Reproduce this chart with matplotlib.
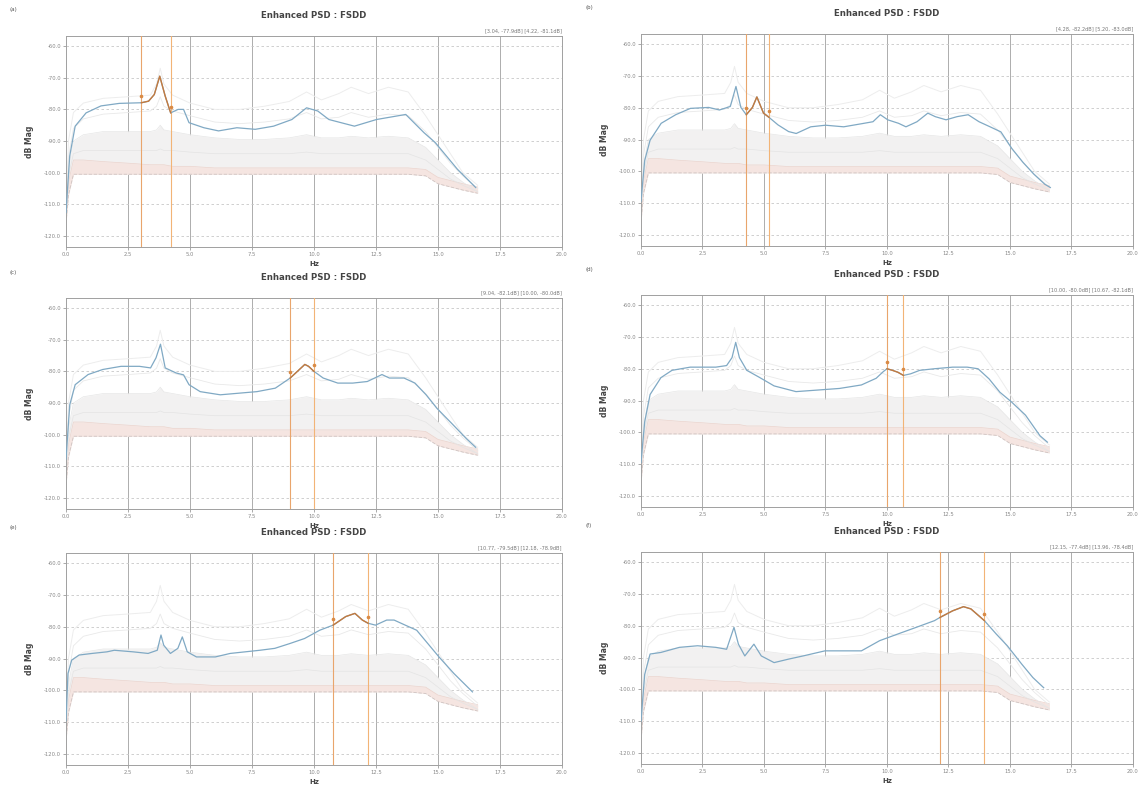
import numpy as np
import matplotlib.pyplot as plt

# background spectra (lower singular values), same in every panel
bg_freq = [0.0, 0.1, 0.3, 0.7, 1.5, 2.5, 3.4, 3.65, 3.8, 3.95, 4.3, 5.0, 6.0, 7.0,
           8.0, 9.0, 9.7, 10.3, 11.0, 11.5, 12.2, 13.0, 13.8, 14.5, 15.0, 15.5, 16.0, 16.6]
sv_a = [-112, -90, -81, -78, -76.5, -76, -75.5, -72, -67, -72, -75.5, -78, -80, -80,
        -79, -77.5, -74.5, -77, -75, -73, -75, -73, -74.5, -82, -88, -94, -100, -104]
sv_b = [-112, -95, -86, -83, -81.5, -81, -80.5, -79, -76, -79, -80.5, -82, -84, -84.5,
        -84, -83, -81, -83, -82.5, -81, -82.5, -81.5, -82, -87, -92, -97, -101, -105]
sv_c = [-113, -98, -90, -88, -87, -87, -87, -86.5, -85, -86.5, -87, -88, -89, -89.5,
        -89.5, -89, -88, -89, -89, -88.5, -89, -88.5, -89, -92, -96, -100, -103, -106]
sv_d = [-113, -101, -94, -93, -93, -93, -93, -93, -92.5, -93, -93, -93.5, -94, -94,
        -94, -94, -93.5, -94, -94, -94, -94, -94, -94, -96, -99, -102, -104, -106]
floor_hi = [-113, -103, -96, -96, -96.5, -97, -97.5, -97.5, -97.5, -97.5, -98, -98, -98.5, -98.5,
            -98.5, -98.5, -98.5, -98.5, -98.5, -98.5, -98.5, -98.5, -98.5, -99, -101.5, -102.5, -103.5, -104.5]
floor_lo = [-116, -107, -100.5, -100.5, -100.5, -100.5, -100.5, -100.5, -100.5, -100.5, -100.5, -100.5, -100.5, -100.5,
            -100.5, -100.5, -100.5, -100.5, -100.5, -100.5, -100.5, -100.5, -100.5, -101, -103.5, -104.5, -105.5, -106.5]

# first singular value for each panel
a_freq = [0.0, 0.15, 0.37, 0.81, 1.41, 2.15, 3.04, 3.33, 3.56, 3.78, 4.0, 4.22, 4.52, 4.74, 4.96,
          5.56, 6.15, 6.89, 7.63, 8.37, 9.11, 9.7, 10.15, 10.6, 11.63, 12.52, 13.7, 14.44, 14.89, 15.78, 16.52]
a_db = [-112.6, -94.7, -85.3, -81.1, -78.9, -78.1, -77.9, -77.4, -75.3, -69.5, -75.8, -81.1, -80.0, -80.0, -84.2,
        -85.8, -86.8, -85.8, -86.3, -85.3, -83.2, -79.5, -80.5, -83.2, -85.3, -83.2, -81.6, -87.4, -90.5, -98.9, -104.7]

b_freq = [0.0, 0.15, 0.37, 0.82, 1.41, 2.01, 2.75, 3.19, 3.63, 3.86, 4.06, 4.28, 4.53, 4.71, 4.98, 5.2, 5.57,
          6.0, 6.31, 6.9, 7.5, 8.24, 8.99, 9.43, 9.73, 10.03, 10.47, 10.77, 11.22, 11.66, 11.96, 12.4,
          12.85, 13.3, 13.74, 14.19, 14.63, 15.08, 15.53, 15.97, 16.42, 16.64]
b_db = [-109.4, -96.6, -90.2, -84.9, -82.2, -80.2, -79.9, -80.7, -79.6, -73.3, -79.9, -82.2, -79.9, -76.6, -81.7, -83.0, -85.4,
        -87.5, -88.1, -86.0, -85.5, -86.0, -85.0, -84.4, -82.2, -83.8, -84.9, -86.0, -84.4, -81.7, -82.8, -83.8,
        -82.8, -82.2, -84.4, -86.0, -87.6, -92.9, -97.2, -100.9, -104.1, -105.1]

c_freq = [0.0, 0.15, 0.37, 0.89, 1.48, 2.22, 2.96, 3.41, 3.63, 3.81, 4.0, 4.44, 4.74, 4.96, 5.41, 6.22, 6.96,
          7.7, 8.44, 9.04, 9.33, 9.63, 9.78, 10.0, 10.37, 10.96, 11.56, 12.15, 12.74, 13.04, 13.63, 14.07,
          14.52, 14.96, 15.56, 16.15, 16.52]
c_db = [-107.7, -90.6, -84.2, -81.0, -79.4, -78.4, -78.4, -78.9, -75.7, -71.4, -78.9, -80.5, -81.1, -84.2, -86.4, -87.4, -86.9,
        -86.4, -85.3, -82.1, -80.0, -77.8, -78.4, -80.0, -82.1, -83.7, -83.7, -83.2, -81.0, -82.1, -82.1, -83.7,
        -87.4, -91.7, -96.5, -101.3, -104.0]

d_freq = [0.0, 0.15, 0.37, 0.81, 1.26, 2.0, 3.04, 3.48, 3.7, 3.85, 4.0, 4.3, 4.81, 5.41, 6.3, 7.19, 8.07,
          8.96, 9.56, 9.85, 10.0, 10.22, 10.44, 10.67, 10.96, 11.33, 11.93, 12.67, 13.26, 13.7, 14.15, 14.59,
          15.04, 15.63, 16.22, 16.52]
d_db = [-109.5, -96.7, -88.1, -82.8, -80.5, -79.5, -79.5, -79.0, -76.5, -71.7, -76.5, -80.5, -82.7, -85.4, -87.2, -86.7, -86.2,
        -85.1, -83.0, -80.9, -80.0, -80.5, -81.1, -82.1, -81.6, -80.5, -80.0, -79.5, -79.5, -80.0, -83.2, -87.4,
        -90.3, -94.6, -101.1, -103.1]

e_freq = [0.0, 0.08, 0.23, 0.53, 1.05, 1.65, 1.95, 2.71, 3.31, 3.68, 3.83, 3.94, 4.21, 4.51, 4.69, 4.89, 5.26,
          6.02, 6.62, 7.22, 7.82, 8.42, 9.02, 9.62, 10.23, 10.77, 11.28, 11.65, 11.95, 12.18, 12.48, 12.93,
          13.23, 13.68, 14.14, 14.59, 15.04, 15.64, 16.39]
e_db = [-109.5, -94.7, -90.5, -88.9, -88.4, -87.9, -87.4, -87.9, -88.4, -87.4, -82.6, -85.8, -88.4, -86.8, -83.2, -87.9, -89.5,
        -89.5, -88.4, -87.9, -87.4, -86.8, -85.3, -83.7, -81.1, -79.5, -76.8, -75.8, -77.9, -78.9, -79.5, -77.9,
        -77.9, -79.5, -81.1, -85.3, -89.5, -94.7, -100.5]

f_freq = [0.0, 0.15, 0.37, 0.81, 1.56, 2.3, 3.04, 3.48, 3.78, 3.96, 4.22, 4.59, 4.89, 5.41, 6.0, 6.59, 7.48,
          8.37, 8.96, 9.7, 10.44, 11.19, 11.93, 12.15, 12.67, 13.11, 13.41, 13.96, 14.44, 14.89, 15.48, 15.93, 16.37]
f_db = [-110.0, -95.3, -88.9, -88.4, -86.8, -86.3, -86.8, -87.4, -80.5, -85.8, -89.5, -85.8, -89.5, -91.6, -90.5, -89.5, -87.9,
        -87.9, -87.9, -84.7, -82.6, -80.5, -78.4, -77.4, -75.3, -74.0, -74.7, -78.4, -82.6, -86.3, -92.1, -96.3, -99.5]

# cursor pairs (Hz)
cursors = {
    "a": (3.04, 4.22),
    "b": (4.28, 5.2),
    "c": (9.04, 10.0),
    "d": (10.0, 10.67),
    "e": (10.77, 12.18),
    "f": (12.15, 13.96),
}
main = {
    "a": (a_freq, a_db), "b": (b_freq, b_db), "c": (c_freq, c_db),
    "d": (d_freq, d_db), "e": (e_freq, e_db), "f": (f_freq, f_db),
}

x_ticks = [0.0, 2.5, 5.0, 7.5, 10.0, 12.5, 15.0, 17.5, 20.0]
y_ticks = [-60, -70, -80, -90, -100, -110, -120]

W, H = 1141, 787
# axes boxes in pixels: left, top, right, bottom
boxes = {
    "a": (66, 36, 562, 247),
    "b": (641, 34, 1133, 246),
    "c": (66, 298, 562, 509),
    "d": (641, 295, 1133, 507),
    "e": (66, 553, 562, 765),
    "f": (641, 552, 1133, 764),
}

fig = plt.figure(figsize=(W / 100, H / 100), dpi=100)
txt = "#444444"

for key, (l, t, r, b) in boxes.items():
    ax = fig.add_axes([l / W, 1 - b / H, (r - l) / W, (b - t) / H])
    ax.set_xlim(0, 20)
    ax.set_ylim(-123.5, -56.8)

    # noise floor and lower singular values
    ax.fill_between(bg_freq, sv_c, floor_lo, color="#f2f1f1", lw=0, zorder=1)
    ax.fill_between(bg_freq, floor_hi, floor_lo, color="#f5e5e1", lw=0, zorder=1)
    ax.plot(bg_freq, floor_lo, color="#cfc4c2", lw=0.6, ls=(0, (4, 2)), zorder=2)
    ax.plot(bg_freq, floor_hi, color="#ecd3cc", lw=0.5, zorder=2)
    ax.plot(bg_freq, sv_d, color="#e4e4e4", lw=0.5, zorder=2)
    ax.plot(bg_freq, sv_c, color="#e6e6e6", lw=0.5, zorder=2)
    ax.plot(bg_freq, sv_b, color="#e9e9e9", lw=0.6, zorder=2)
    ax.plot(bg_freq, sv_a, color="#ededed", lw=0.7, zorder=2)

    fx, fy = main[key]
    fx = np.array(fx)
    fy = np.array(fy)
    ax.plot(fx, fy, color="#80a9c4", lw=0.9, zorder=4)

    c0, c1 = cursors[key]
    sel = (fx >= c0 - 0.005) & (fx <= c1 + 0.005)
    ax.plot(fx[sel], fy[sel], color="#c47a3e", lw=1.0, zorder=5)
    ax.plot([fx[sel][0], fx[sel][-1]], [fy[sel][0] + 2.0, fy[sel][-1] + 2.0],
            ls="none", marker="o", ms=1.6, color="#d98a45", zorder=6)
    ax.axvline(c0, color="#e9a56c", lw=0.8, zorder=3)
    ax.axvline(c1, color="#f2b476", lw=0.8, zorder=3)

    # grid
    ax.set_xticks(x_ticks)
    ax.set_yticks(y_ticks)
    for xv in x_ticks[1:-1]:
        ax.axvline(xv, color="#a0a0a0", lw=0.6, zorder=0)
    for yv in y_ticks:
        ax.axhline(yv, color="#c8c8c8", lw=0.6, ls=(0, (3, 3)), zorder=0)

    ax.set_xticklabels([f"{v:.1f}" for v in x_ticks], fontsize=3.8, color="#666666")
    ax.set_yticklabels([f"{v:.1f}" for v in y_ticks], fontsize=3.8, color="#666666")
    ax.tick_params(length=2, width=0.5, colors="#888888", pad=1.5)
    for s in ax.spines.values():
        s.set_color("#a0a0a0")
        s.set_linewidth(0.7)

    ax.set_title("Enhanced PSD : FSDD", fontsize=6.2, fontweight="bold", color=txt, pad=13)
    ax.set_ylabel("dB Mag", fontsize=5.5, fontweight="bold", color=txt, labelpad=7)
    ax.set_xlabel("Hz", fontsize=5, fontweight="bold", color=txt, labelpad=3)
    ax.text(1.0, 1.015, f"[{c0:.2f}, {fy[sel][0]:.1f}dB] [{c1:.2f}, {fy[sel][-1]:.1f}dB]",
            transform=ax.transAxes, ha="right", va="bottom", fontsize=3.6, color="#777777")

    fig.text((l - 56) / W, 1 - (t - 26) / H, f"({key})", fontsize=4, color="#555555",
             ha="left", va="center")

fig.savefig("out.png", dpi=100, facecolor="white")
